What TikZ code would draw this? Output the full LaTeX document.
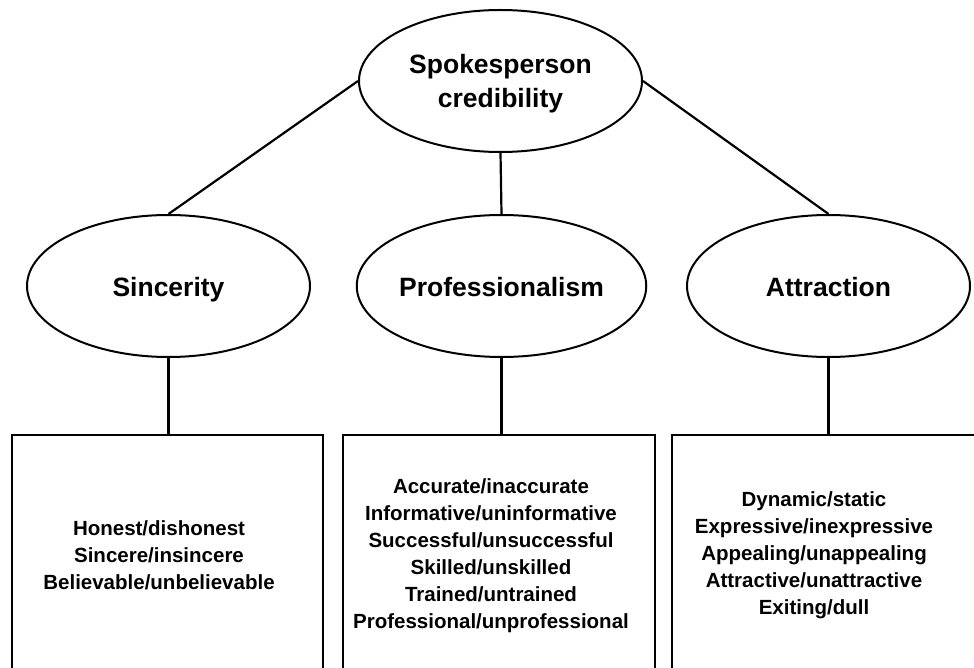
\documentclass[tikz,border=0pt]{standalone}
\usepackage{fontspec}
\setmainfont{Liberation Sans}
\usetikzlibrary{positioning,shapes.geometric}
\tikzset{
  factor/.style={draw,ellipse,line width=2pt,minimum width=283pt,minimum height=142pt,inner sep=0pt,align=center,font=\fontsize{26.5}{34}\selectfont\bfseries},
  single/.style={text height=24pt,text depth=2.5pt},
  itembox/.style={draw,line width=2.5pt,minimum height=265pt,inner sep=0pt},
  items/.style={align=center,inner sep=0pt,font=\fontsize{20.5}{27}\selectfont\bfseries},
  link/.style={line width=2.2pt}
}
\begin{document}
\begin{tikzpicture}[x=1pt,y=-1pt]
  \useasboundingbox (0,0) rectangle (974,668);
  \clip (0,0) rectangle (974,668);
  % ellipses
  \node[factor,text depth=-4pt] (cred) at (500.5,81) {Spokesperson\\credibility};
  \node[factor,single] (sinc) at (168.5,286) {Sincerity};
  \node[factor,single] (prof) at (501.5,286) {Professionalism};
  \node[factor,single] (attr) at (828.5,286) {Attraction};
  % boxes, open below the page edge
  \node[itembox,minimum width=311pt] (sincbox) at (167.5,567.5) {};
  \node[itembox,minimum width=312pt] (profbox) at (499,567.5) {};
  \node[itembox,minimum width=318pt] (attrbox) at (831,567.5) {};
  \node[items] (sinctext) at (159,555) {Honest/dishonest\\Sincere/insincere\\Believable/unbelievable};
  \node[items] (proftext) at (491,556) {Accurate/inaccurate\\Informative/uninformative\\Successful/unsuccessful\\Skilled/unskilled\\Trained/untrained\\Professional/unprofessional};
  \node[items] (attrtext) at (814,555) {Dynamic/static\\Expressive/inexpressive\\Appealing/unappealing\\Attractive/unattractive\\Exiting/dull};
  % connectors
  \draw[link] (cred.west) -- (sinc.north);
  \draw[link] (cred.south) -- (prof.north);
  \draw[link] (cred.east) -- (attr.north);
  \draw[link] (sinc.south) -- (sinc.south |- sincbox.north);
  \draw[link] (prof.south) -- (prof.south |- profbox.north);
  \draw[link] (attr.south) -- (attr.south |- attrbox.north);
\end{tikzpicture}
\end{document}
